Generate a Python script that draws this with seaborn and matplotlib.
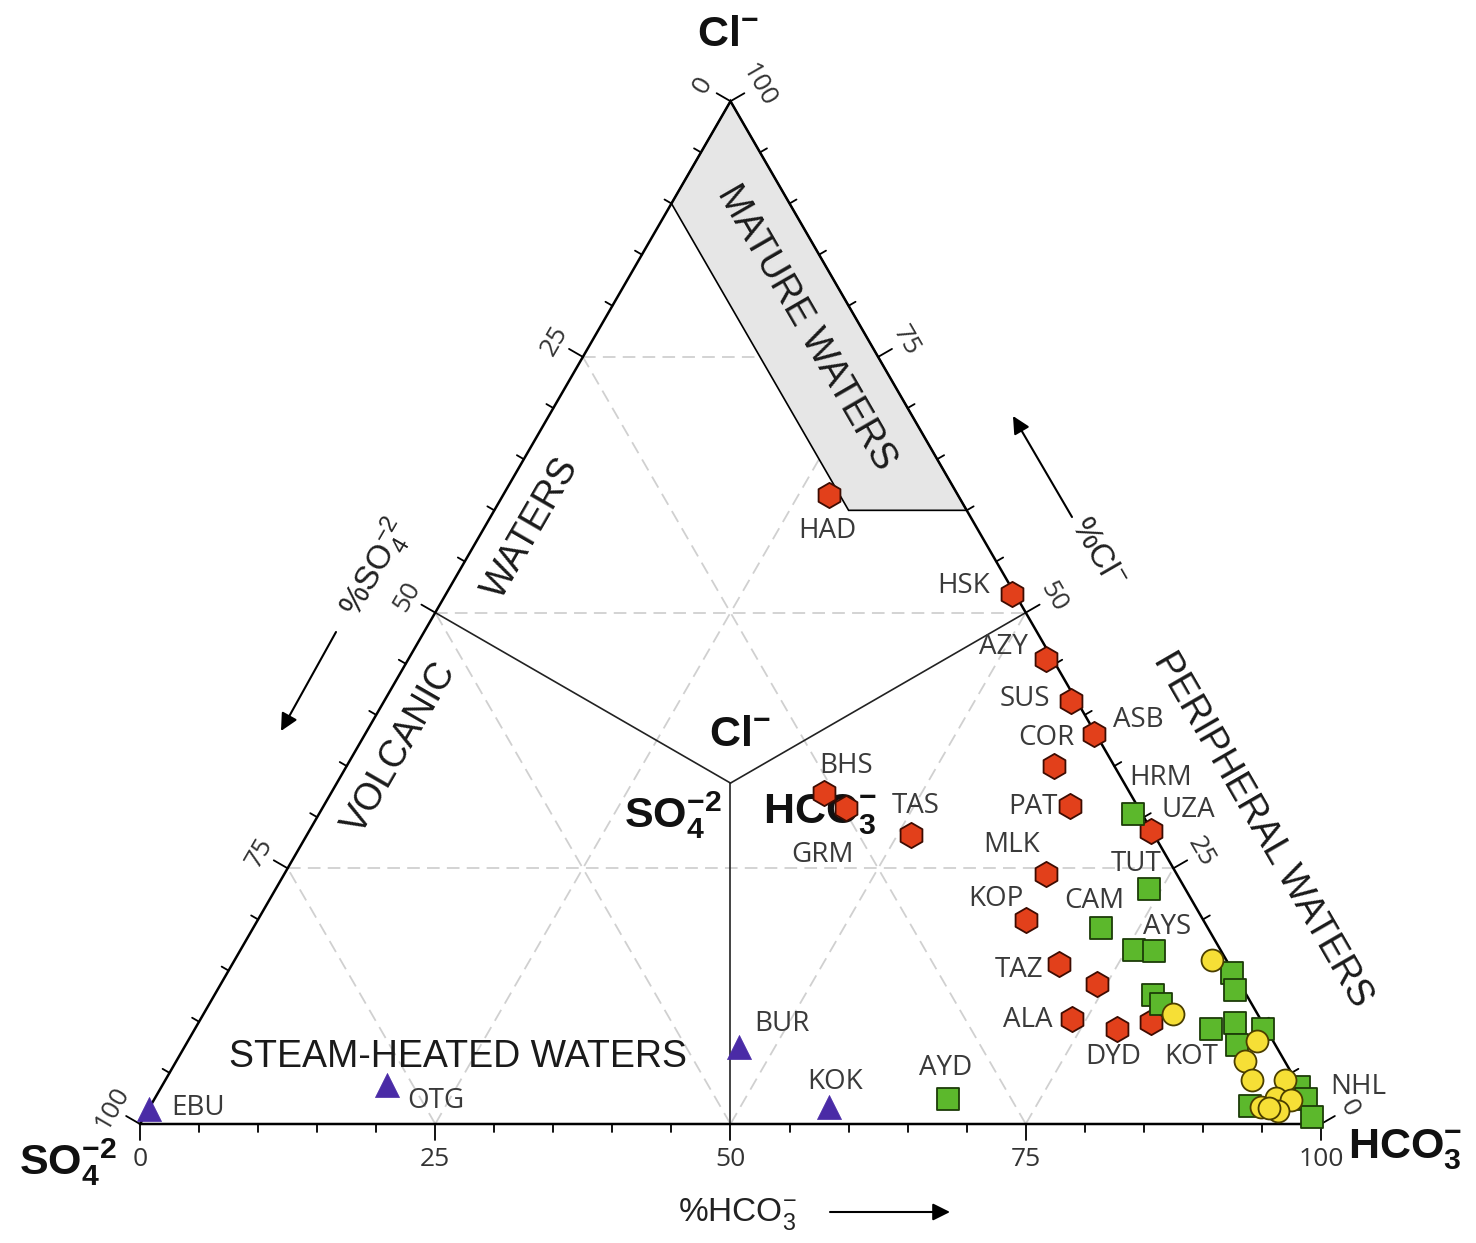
import numpy as np
import pandas as pd
import matplotlib
matplotlib.use('Agg')
import matplotlib.pyplot as plt
import seaborn as sns

# Giggenbach Cl-SO4-HCO3 diagram, values in percent (Cl, SO4, HCO3)
red_names = ['HAD', 'HSK', 'AZY', 'SUS', 'ASB', 'COR', 'PAT', 'UZA', 'BHS', 'GRM',
             'TAS', 'MLK', 'KOP', 'TAZ', '', 'ALA', 'DYD', 'KOT']
red_cl = [61.5, 51.8, 45.5, 41.4, 38.1, 35.0, 31.1, 28.6, 32.4, 30.9,
          28.3, 24.4, 19.9, 15.6, 13.7, 10.3, 9.3, 10.0]
red_so4 = [10.9, 0.3, 0.5, 0.5, 0.2, 5.1, 5.7, 0.1, 25.9, 24.8,
           20.6, 11.1, 15.0, 14.4, 12.1, 15.9, 12.6, 9.4]
red_hco3 = [27.6, 47.9, 54.0, 58.1, 61.7, 59.9, 63.2, 71.3, 41.7, 44.3,
            51.1, 64.5, 65.1, 70.0, 74.2, 73.8, 78.1, 80.6]

green_names = ['HRM', 'TUT', 'CAM', 'AYS', '', '', '', '', '', '',
               '', '', '', '', '', 'NHL', '', 'AYD']
green_cl = [30.3, 23.0, 19.2, 17.0, 16.9, 12.6, 11.7, 14.8, 13.1, 9.3,
            9.9, 9.3, 7.7, 3.6, 2.4, 0.7, 1.8, 2.4]
green_so4 = [0.8, 3.1, 9.0, 7.3, 5.7, 7.9, 7.7, 0.1, 0.7, 4.7,
             2.3, 0.3, 3.3, 0.1, 0.1, 0.4, 5.1, 30.4]
green_hco3 = [68.9, 73.9, 71.8, 75.7, 77.4, 79.5, 80.6, 85.1, 86.2, 86.0,
              87.8, 90.4, 89.0, 96.3, 97.5, 98.9, 93.1, 67.2]

yellow_cl = [16.0, 10.8, 8.1, 6.2, 4.3, 4.3, 2.5, 2.3, 1.7, 1.3, 1.6]
yellow_so4 = [1.2, 7.1, 1.4, 3.3, 3.7, 0.9, 2.6, 1.4, 4.2, 3.0, 3.6]
yellow_hco3 = [82.8, 82.1, 90.5, 90.5, 92.0, 94.8, 94.9, 96.3, 94.1, 95.7, 94.8]

purple_names = ['EBU', 'OTG', 'BUR', 'KOK']
purple_cl = [1.5, 3.8, 7.5, 1.7]
purple_so4 = [98.5, 77.2, 45.5, 40.8]
purple_hco3 = [0.0, 19.0, 47.0, 57.5]

tick_values = [0, 25, 50, 75, 100]

PX = 1181.0  # pixels per unit side
H = np.sqrt(3) / 2


def to_xy(cl, so4, hco3):
    cl, so4, hco3 = np.asarray(cl, float), np.asarray(so4, float), np.asarray(hco3, float)
    tot = cl + so4 + hco3
    return hco3 / tot + 0.5 * cl / tot, H * cl / tot


def make_plot():
    sns.set_style('white')
    plt.rcParams['font.family'] = ['Liberation Sans', 'DejaVu Sans']
    plt.rcParams['mathtext.fontset'] = 'custom'
    plt.rcParams['mathtext.rm'] = 'Liberation Sans'
    plt.rcParams['mathtext.it'] = 'Liberation Sans:italic'
    plt.rcParams['mathtext.bf'] = 'Liberation Sans:bold'

    fig = plt.figure(figsize=(14.76, 12.43), dpi=100)
    ax = fig.add_axes([0, 0, 1, 1])
    ax.set_xlim(-140 / PX, 1336 / PX)
    ax.set_ylim(-119 / PX, 1124 / PX)
    ax.axis('off')

    # dashed grid
    for v in [25, 50, 75]:
        segs = [((v, 100 - v, 0), (v, 0, 100 - v)),
                ((0, 100 - v, v), (100 - v, 0, v)),
                ((0, v, 100 - v), (100 - v, v, 0))]
        for a, b in segs:
            x, y = to_xy([a[0], b[0]], [a[1], b[1]], [a[2], b[2]])
            ax.plot(x, y, color='#d0d0d0', lw=1.3, ls=(0, (7, 4)), zorder=1)

    # mature waters field
    mx, my = to_xy([100, 90, 60, 60], [0, 10, 10, 0], [0, 0, 30, 40])
    ax.fill(mx, my, facecolor='#e6e6e6', edgecolor='black', lw=1.2, zorder=2)

    # central Y dividing lines
    cx, cy = to_xy([1], [1], [1])
    for end in [(50, 50, 0), (50, 0, 50), (0, 50, 50)]:
        ex, ey = to_xy([end[0]], [end[1]], [end[2]])
        ax.plot([cx[0], ex[0]], [cy[0], ey[0]], color='#222222', lw=1.2, zorder=2)

    # triangle frame
    ax.plot([0, 1, 0.5, 0], [0, 0, H, 0], color='black', lw=1.8, zorder=3,
            solid_joinstyle='miter')

    # ticks
    maj, mnr = 16 / PX, 8 / PX
    for v in range(0, 101, 5):
        ln = maj if v % 25 == 0 else mnr
        # bottom (%HCO3)
        ax.plot([v / 100, v / 100], [0, -ln], color='black', lw=1.3, zorder=3)
        # left (%SO4)
        px, py = (100 - v) / 200, (100 - v) / 100 * H
        ax.plot([px, px - 0.866 * ln], [py, py + 0.5 * ln], color='black', lw=1.3, zorder=3)
        # right (%Cl)
        px, py = 1 - v / 200, v / 100 * H
        ax.plot([px, px + 0.866 * ln], [py, py + 0.5 * ln], color='black', lw=1.3, zorder=3)

    tick_kw = dict(family=['Open Sans', 'DejaVu Sans'], fontsize=19, color='#333333',
                   ha='center', va='center')
    off = 32 / PX
    for v in tick_values:
        ax.text(v / 100, -36 / PX, str(v), **tick_kw)
        px, py = (100 - v) / 200, (100 - v) / 100 * H
        ax.text(px - 0.866 * off, py + 0.5 * off, str(v), rotation=60, **tick_kw)
        px, py = 1 - v / 200, v / 100 * H
        ax.text(px + 0.866 * off, py + 0.5 * off, str(v), rotation=-60, **tick_kw)

    def at(xp, yp):
        return (xp - 140) / PX, (1124 - yp) / PX

    # corner and field captions
    bold_kw = dict(fontsize=31, ha='center', va='center', color='#111111')
    ax.text(*at(728, 35), r'$\mathbf{Cl^{-}}$', **bold_kw)
    ax.text(*at(68, 1162), r'$\mathbf{SO_4^{-2}}$', **bold_kw)
    ax.text(*at(1405, 1150), r'$\mathbf{HCO_3^{-}}$', **bold_kw)
    ax.text(*at(740, 735), r'$\mathbf{Cl^{-}}$', **bold_kw)
    ax.text(*at(673, 815), r'$\mathbf{SO_4^{-2}}$', **bold_kw)
    ax.text(*at(820, 815), r'$\mathbf{HCO_3^{-}}$', **bold_kw)

    field_kw = dict(fontsize=27, ha='center', va='center', color='#1a1a1a', zorder=4)
    ax.text(*at(806, 328), 'MATURE WATERS', rotation=-60, **field_kw)
    ax.text(*at(1262, 830), 'PERIPHERAL WATERS', rotation=-60, **field_kw)
    ax.text(*at(400, 748), 'VOLCANIC', rotation=60, **field_kw)
    ax.text(*at(531, 528), 'WATERS', rotation=60, **field_kw)
    ax.text(*at(458, 1057), 'STEAM-HEATED WATERS', **field_kw)

    # axis captions with arrows
    cap_kw = dict(fontsize=24, ha='center', va='center', color='#222222')
    ax.text(*at(376, 568), r'$\mathrm{\%SO_4^{-2}}$', rotation=60, **cap_kw)
    ax.text(*at(1097, 553), r'$\mathrm{\%Cl^{-}}$', rotation=-60, **cap_kw)
    ax.text(*at(737, 1214), r'$\mathrm{\%HCO_3^{-}}$', **cap_kw)
    arr = dict(arrowstyle='-|>', color='black', lw=1.5, mutation_scale=26, shrinkA=0, shrinkB=0)
    for tail, tip in [((336, 632), (281, 731)), ((1072, 517), (1013, 416)),
                      ((830, 1212), (950, 1212))]:
        ax.annotate('', xy=at(*tip), xytext=at(*tail), arrowprops=arr)

    # samples
    groups = [
        ('red', red_cl, red_so4, red_hco3, 'h', 330, '#e2401b', '#3d0c02', 1.3),
        ('green', green_cl, green_so4, green_hco3, 's', 270, '#5cb82c', '#1c3c08', 1.3),
        ('yellow', yellow_cl, yellow_so4, yellow_hco3, 'o', 250, '#f6df36', '#4a3e00', 1.3),
        ('purple', purple_cl, purple_so4, purple_hco3, '^', 300, '#4a2ba6', '#4a2ba6', 0.5),
    ]
    frames = []
    for name, cl, so4, hco3, mk, s, fc, ec, lw in groups:
        x, y = to_xy(cl, so4, hco3)
        df = pd.DataFrame({'x': x, 'y': y, 'group': name})
        frames.append(df)
        sns.scatterplot(data=df, x='x', y='y', marker=mk, s=s, color=fc, edgecolor=ec,
                        linewidth=lw, ax=ax, legend=False, zorder=5)

    # sample labels, offsets in pixels from the symbol (right, down)
    label_offsets = {
        'HAD': (-2, 36), 'HSK': (-48, -8), 'AZY': (-43, -12), 'SUS': (-46, -2),
        'ASB': (45, -14), 'COR': (-8, -28), 'PAT': (-37, 1), 'UZA': (37, -21),
        'BHS': (22, -27), 'GRM': (-23, 47), 'TAS': (5, -29), 'MLK': (-34, -29),
        'KOP': (-30, -21), 'TAZ': (-40, 6), 'ALA': (-45, 1), 'DYD': (-4, 28),
        'KOT': (40, 35), 'HRM': (28, -36), 'TUT': (-12, -25), 'CAM': (-7, -27),
        'AYS': (33, -23), 'AYD': (-2, -31), 'NHL': (46, -30), 'BUR': (43, -23),
        'KOK': (6, -25), 'EBU': (49, -1), 'OTG': (49, 16),
    }
    lab_kw = dict(family=['Open Sans', 'DejaVu Sans'], fontsize=20, color='#3a3a3a',
                  ha='center', va='center', zorder=6)
    for names, df in [(red_names, frames[0]), (green_names, frames[1]), (purple_names, frames[3])]:
        for nm, x, y in zip(names, df['x'], df['y']):
            if nm:
                dx, dy = label_offsets[nm]
                ax.text(x + dx / PX, y - dy / PX, nm, **lab_kw)

    fig.savefig('out.png', dpi=100)


if __name__ == "__main__":
    make_plot()
